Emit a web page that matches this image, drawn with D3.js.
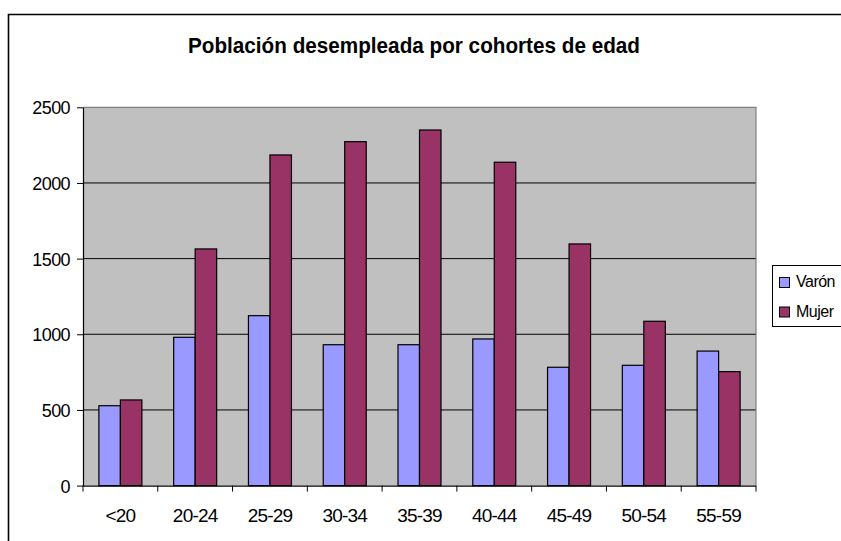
<!DOCTYPE html>
<html><head><meta charset="utf-8">
<script src="https://cdn.jsdelivr.net/npm/d3@7"></script>
<style>body{margin:0;background:#fff}svg{display:block}</style>
</head><body>
<script>
const categories = ["<20","20-24","25-29","30-34","35-39","40-44","45-49","50-54","55-59"];
const seriesNames = ["Varón","Mujer"];
const varon = [528, 980, 1123, 931, 931, 969, 782, 795, 889];
const mujer = [566, 1564, 2185, 2273, 2350, 2137, 1597, 1086, 753];
const yTicks = [0, 500, 1000, 1500, 2000, 2500];
const colors = ["#9999FF", "#993366"];
const title = "Población desempleada por cohortes de edad";

const W = 841, H = 541;
const svg = d3.select("body").append("svg").attr("width", W).attr("height", H);
const font = "'Liberation Sans', Arial, sans-serif";

// outer chart border (only top and left visible)
svg.append("path").attr("d", `M8.5,${H+5} V14.5 H${W+5}`).attr("fill","none").attr("stroke","#000").attr("stroke-width",1.6);

const L = 83, R = 756, T = 107.3, B = 485.6;
svg.append("rect").attr("x", L).attr("y", T).attr("width", R-L).attr("height", B-T).attr("fill", "#C0C0C0");

const y = d3.scaleLinear().domain([0, 2500]).range([B, T]);
const x = d3.scaleBand().domain(categories).range([L, R]).paddingInner(0.425).paddingOuter(0.2125);
const xs = d3.scaleBand().domain(seriesNames).range([0, x.bandwidth()]);

// grid
svg.append("g").selectAll("line").data(yTicks.filter(d => d > 0 && d < 2500)).join("line")
  .attr("x1", L).attr("x2", R).attr("y1", d => y(d)).attr("y2", d => y(d))
  .attr("stroke", "#000").attr("stroke-width", 1);

// plot border top/right grey
svg.append("path").attr("d", `M${L},${T} H${R} V${B}`).attr("fill","none").attr("stroke","#808080").attr("stroke-width",1.2);

// bars
const data = categories.map((c, i) => ({c, vals: [varon[i], mujer[i]]}));
const g = svg.append("g");
data.forEach(d => {
  d.vals.forEach((v, j) => {
    g.append("rect")
      .attr("x", x(d.c) + xs(seriesNames[j]))
      .attr("y", y(v))
      .attr("width", xs.bandwidth())
      .attr("height", y(0) - y(v))
      .attr("fill", colors[j])
      .attr("stroke", "#000").attr("stroke-width", 1.2);
  });
});

// y axis
const yAxis = svg.append("g").attr("transform", `translate(${L},0)`)
  .call(d3.axisLeft(y).tickValues(yTicks).tickFormat(d3.format("d")).tickSize(6).tickSizeOuter(0).tickPadding(7));
yAxis.select(".domain").attr("stroke", "#000").attr("stroke-width", 1.2);
yAxis.selectAll(".tick line").attr("stroke", "#000");
yAxis.selectAll("text").attr("font-family", font).attr("font-size", 18).attr("fill", "#000").attr("dy", "0.36em").attr("letter-spacing", "-0.6");

// x axis
const xAxis = svg.append("g").attr("transform", `translate(0,${B})`)
  .call(d3.axisBottom(x).tickSize(0).tickPadding(0));
xAxis.select(".domain").attr("d", `M${L},0.5H${R}`).attr("stroke", "#000").attr("stroke-width", 1.2);
xAxis.selectAll("text").attr("font-family", font).attr("font-size", 19).attr("fill", "#000").attr("dy", null).attr("y", 36).attr("letter-spacing", "-0.8");
// boundary tick marks
const bounds = categories.map(c => x(c) - x.step() * x.paddingOuter()).concat([R]);
xAxis.append("g").selectAll("line").data(bounds).join("line")
  .attr("x1", d => d).attr("x2", d => d).attr("y1", 0).attr("y2", 6).attr("stroke", "#000");

// title
svg.append("text").attr("x", 414).attr("y", 53).attr("text-anchor", "middle")
  .attr("font-family", font).attr("font-weight", "bold").attr("font-size", 22)
  .attr("textLength", 452).attr("lengthAdjust", "spacingAndGlyphs")
  .text(title);

// legend
const lg = svg.append("g");
lg.append("rect").attr("x", 772.5).attr("y", 265.5).attr("width", 100).attr("height", 61)
  .attr("fill", "#fff").attr("stroke", "#000").attr("stroke-width", 1);
seriesNames.forEach((n, i) => {
  const yy = 277.5 + i * 29.5;
  lg.append("rect").attr("x", 779.5).attr("y", yy).attr("width", 10).attr("height", 10)
    .attr("fill", colors[i]).attr("stroke", "#000").attr("stroke-width", 1);
  lg.append("text").attr("x", 796).attr("y", yy + 9.5).attr("font-family", font)
    .attr("font-size", 16).attr("letter-spacing", "-0.5").text(n);
});
</script>
</body></html>
